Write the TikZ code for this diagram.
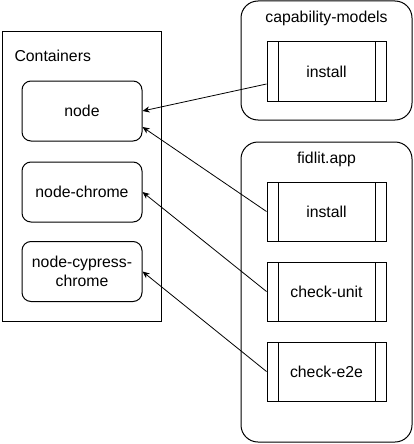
\documentclass[tikz,border=0pt]{standalone}
\usepackage{fontspec}
\setmainfont{Liberation Sans}
\usetikzlibrary{positioning,arrows.meta}

\begin{document}
\begin{tikzpicture}[
    x=1pt, y=-1pt,
    % Styles
    txt/.style={font=\fontsize{15.8}{19}\selectfont},
    groupbox/.style={
        draw=black, line width=1pt, rounded corners=#1,
        minimum width=171pt, inner sep=0pt,
    },
    groupbox/.default={17pt},
    image/.style={
        draw=black, line width=1pt, rounded corners=9pt,
        minimum width=120pt, minimum height=60pt,
        txt, align=center,
    },
    job/.style={
        draw=black, line width=1pt,
        minimum width=119pt, minimum height=59pt, txt,
        path picture={
            \draw[line width=1pt]
                ([xshift=11pt]path picture bounding box.north west)
                -- ([xshift=11pt]path picture bounding box.south west)
                ([xshift=-11pt]path picture bounding box.north east)
                -- ([xshift=-11pt]path picture bounding box.south east);
        },
    },
    arr/.style={-{Stealth[length=7pt,width=6pt,inset=2pt]}, line width=0.8pt},
]
\useasboundingbox (0,0) rectangle (414,444);

% ================================================================
% LEFT: CONTAINERS
% ================================================================
\node[draw=black, line width=1pt, minimum width=159pt, minimum height=289pt]
    (containers) at (81.5, 176.5) {};
\node[txt, anchor=base west] (containerstitle) at (11, 61) {Containers};

\node[image] (nodeimg) at (82, 111) {node};
\node[image] (chromeimg) at (82, 192) {node-chrome};
\node[image] (cypressimg) at (82, 271.5) {node-cypress-\\chrome};

% ================================================================
% RIGHT TOP: CAPABILITY-MODELS
% ================================================================
\node[groupbox, minimum height=119pt] (capbox) at (326.5, 60.5) {};
\node[txt, anchor=base] (captitle) at (326.5, 23) {capability-models};
\node[job] (capinstall) at (326.5, 71.5) {install};

% ================================================================
% RIGHT BOTTOM: FIDLIT.APP
% ================================================================
\node[groupbox, minimum height=300pt] (fidbox) at (326.5, 292) {};
\node[txt, anchor=base] (fidtitle) at (326.5, 163) {fidlit.app};
\node[job] (fidinstall) at (326.5, 211.5) {install};
\node[job] (checkunit) at (326.5, 291.5) {check-unit};
\node[job] (checke2e) at (326.5, 371.5) {check-e2e};

% ================================================================
% ARROWS
% ================================================================
\draw[arr] ([yshift=-12.5pt]capinstall.west) -- (nodeimg.east);
\draw[arr] (fidinstall.west) -- ([yshift=-16pt]nodeimg.east);
\draw[arr] (checkunit.west) -- (chromeimg.east);
\draw[arr] (checke2e.west) -- (cypressimg.east);

\end{tikzpicture}
\end{document}
